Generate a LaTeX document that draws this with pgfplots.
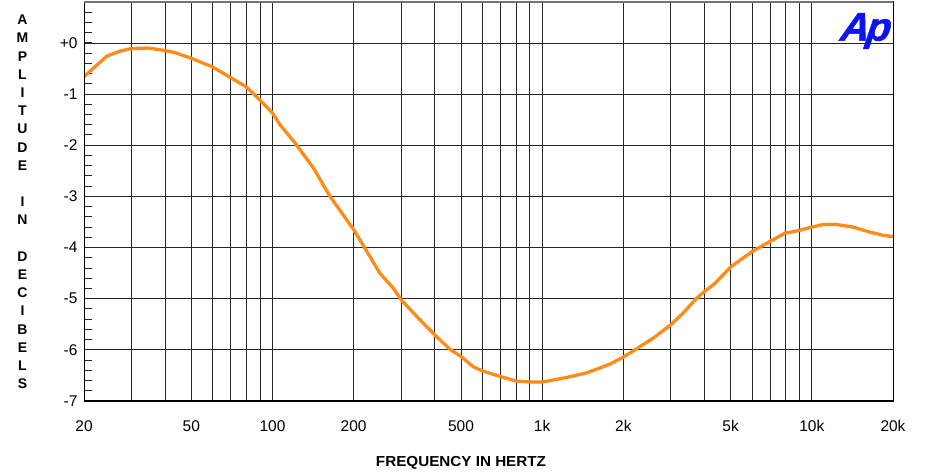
\documentclass[border=0pt]{standalone}
\usepackage{pgfplots}
\pgfplotsset{compat=1.18}
\usepackage{pgfplotstable}
\usepackage{fontspec}
\setmainfont{Liberation Sans}
\newfontfamily\apfont[BoldItalicFeatures={FakeBold=1.2}]{Liberation Sans}
\definecolor{curve}{RGB}{255,140,24}
\definecolor{aplogo}{RGB}{12,20,240}

% frequency response, Hz vs dB
\pgfplotstableread{
hz     db
20     -0.66
21.7   -0.49
24.3   -0.26
27.2   -0.16
30     -0.11
34.6   -0.10
40     -0.15
43.5   -0.19
50     -0.30
60     -0.47
70     -0.68
80     -0.86
90     -1.12
100    -1.37
106.6  -1.60
121    -1.95
141.6  -2.44
163.4  -3.00
200    -3.65
220    -4.01
250    -4.50
280    -4.79
300    -5.02
343    -5.35
400    -5.71
455    -5.99
500    -6.13
555    -6.33
600    -6.41
687    -6.51
800    -6.61
900    -6.63
1000   -6.63
1232   -6.54
1462   -6.45
1783   -6.28
2000   -6.14
2240   -5.98
2582   -5.77
3000   -5.51
3334   -5.28
3740   -4.99
4000   -4.86
4372   -4.70
5000   -4.38
5410   -4.25
6000   -4.08
7000   -3.88
7940   -3.72
8900   -3.67
10000  -3.60
11020  -3.55
12360  -3.55
14230  -3.60
16420  -3.70
18400  -3.76
20000  -3.79
}\response

\begin{document}
\begin{tikzpicture}
\begin{axis}[
    scale only axis,
    width=809pt, height=399pt,
    xmode=log,
    xmin=20, xmax=20000,
    ymin=-7, ymax=0.8,
    xtick={20,50,100,200,500,1000,2000,5000,10000,20000},
    xticklabels={20,50,100,200,500,1k,2k,5k,10k,20k},
    minor xtick={30,40,60,70,80,90,300,400,600,700,800,900,3000,4000,6000,7000,8000,9000},
    ytick={-7,-6,-5,-4,-3,-2,-1,0},
    yticklabels={-7,-6,-5,-4,-3,-2,-1,+0},
    minor ytick={-6.8,-6.6,...,0.7},
    xmajorgrids, xminorgrids, ymajorgrids,
    grid style={black!85, line width=0.8pt},
    minor grid style={black!85, line width=0.8pt},
    tick align=inside,
    xtick pos=bottom, ytick pos=left,
    major tick length=0pt,
    minor tick length=8pt,
    minor tick style={black!85, line width=1pt},
    axis line style={black, line width=1pt},
    ticklabel style={font=\fontsize{15.5}{18}\selectfont},
    xticklabel style={yshift=-16pt},
    yticklabel style={xshift=-3pt},
]
\addplot[curve, line width=3.3pt, line join=round] table[x=hz, y=db] {\response};
\draw[black, line width=2pt] (rel axis cs:0,0) -- (rel axis cs:0,1);
\draw[black, line width=2pt] (rel axis cs:0,0) -- (rel axis cs:1,0);
\draw[black!55, line width=2pt] (rel axis cs:0,1) -- (rel axis cs:1,1);
\end{axis}
\node[font=\fontsize{14}{18.2}\selectfont\bfseries, align=center]
  at (-61.5pt,199pt)
  {A\\M\\P\\L\\I\\T\\U\\D\\E\\~\\I\\N\\~\\D\\E\\C\\I\\B\\E\\L\\S};
\node[font=\fontsize{14.5}{16}\selectfont\bfseries, xscale=1.05] at (377pt,-62pt) {FREQUENCY IN HERTZ};
\node[font=\fontsize{40}{44}\selectfont\apfont\bfseries\itshape, text=aplogo, inner sep=0pt, xslant=0.15]
  at (782pt,370pt) {A\kern-3pt p};
\pgfresetboundingbox
\path[use as bounding box] (-84pt,-73pt) rectangle (842pt,401pt);
\end{tikzpicture}
\end{document}
